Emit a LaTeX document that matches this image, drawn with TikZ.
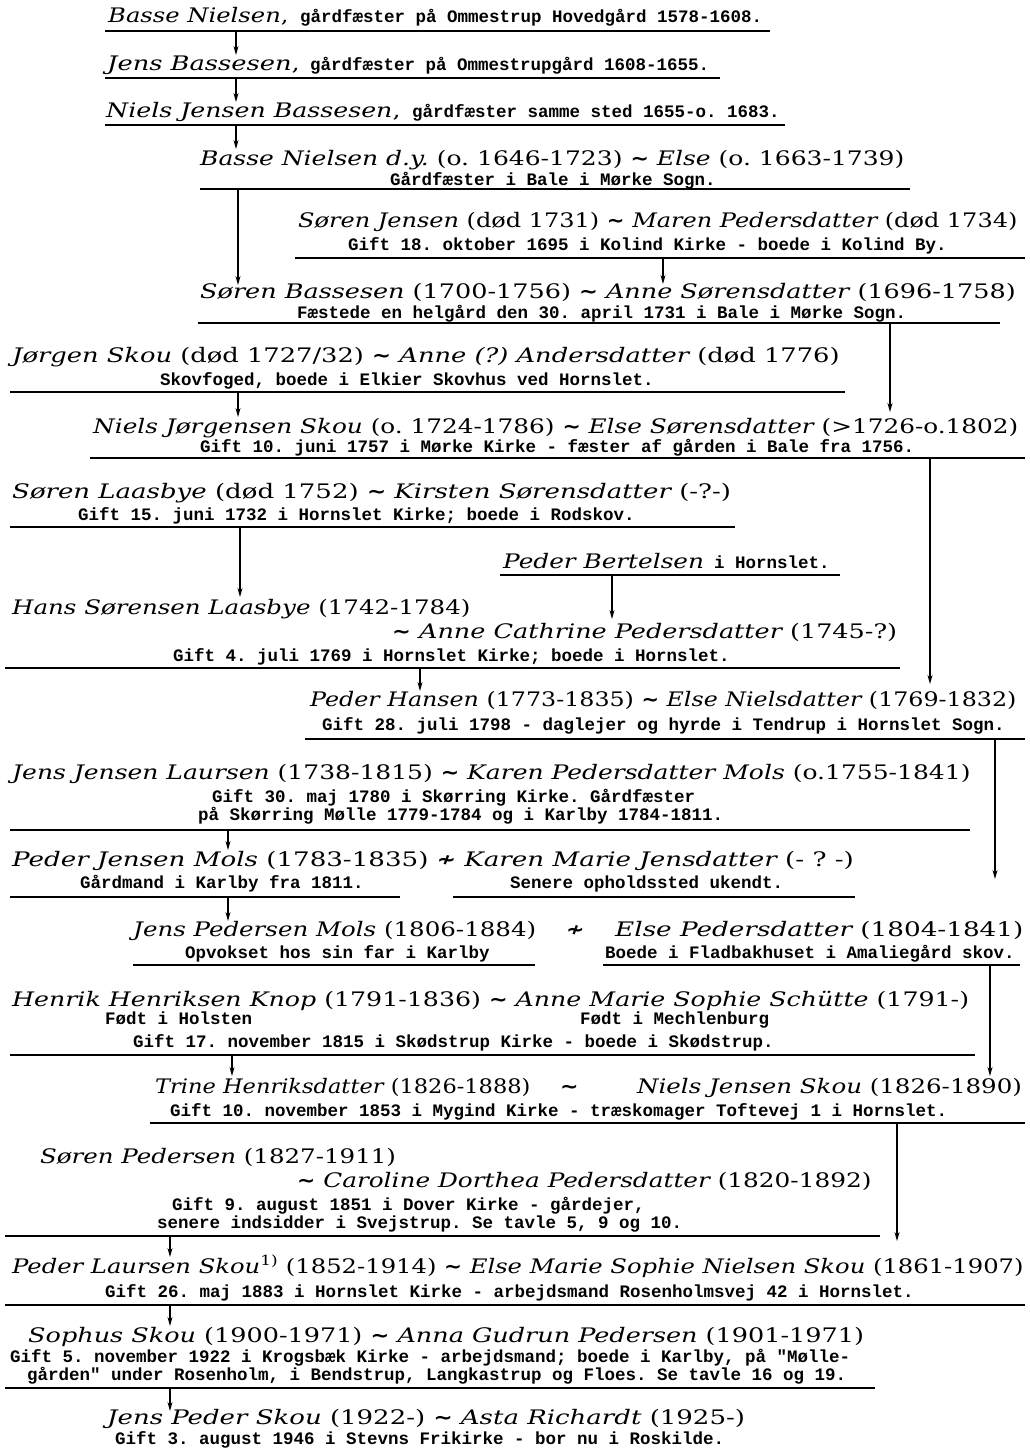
\documentclass[tikz,border=0pt]{standalone}
\usepackage{fontspec}
\usepackage{graphicx}
\usetikzlibrary{arrows.meta}
\newfontfamily\nmfont{DejaVu Serif}[FakeStretch=1.25]
\newfontfamily\mnfont{Liberation Mono}
\newfontfamily\symfont{DejaVu Sans}[FakeStretch=1.1]
\frenchspacing
\newcommand{\nm}[1]{{\itshape #1}}
\newcommand{\mar}{{\symfont\bfseries ∼}}
\newcommand{\sepm}{{\symfont\bfseries ≁}}
\newcommand{\sx}[2]{\scalebox{#1}[1]{#2}}
\tikzset{
  namel/.style={anchor=base west, inner sep=0pt, font=\nmfont\fontsize{20}{23}\selectfont},
  smalll/.style={anchor=base west, inner sep=0pt, font=\mnfont\bfseries\fontsize{17.5}{18}\selectfont},
  uline/.style={line width=1.8pt},
  arr/.style={line width=1.1pt, -{Stealth[length=9pt,width=5pt]}},
}
\begin{document}
\begin{tikzpicture}[x=1pt,y=-1pt]
\useasboundingbox[fill=white] (0,0) rectangle (1029,1449);
% row 1
\node[namel] (r1) at (108,22) {\sx{0.97}{\nm{Basse Nielsen},}};
\node[smalll] (m1) at (300,22) {gårdfæster på Ommestrup Hovedgård 1578-1608.};
\coordinate (u1a) at (105,31); \coordinate (u1b) at (770,31);
\draw[uline] (u1a) -- (u1b);
% row 2
\node[namel] (r2) at (107,70) {\sx{1.03}{\nm{Jens Bassesen},}};
\node[smalll] (m2) at (310,70) {gårdfæster på Ommestrupgård 1608-1655.};
\coordinate (u2a) at (105,78); \coordinate (u2b) at (720,78);
\draw[uline] (u2a) -- (u2b);
% row 3
\node[namel] (r3) at (106,117) {\sx{1.01}{\nm{Niels Jensen Bassesen},}};
\node[smalll] (m3) at (412,117) {gårdfæster samme sted 1655-o. 1683.};
\coordinate (u3a) at (105,125); \coordinate (u3b) at (785,125);
\draw[uline] (u3a) -- (u3b);
% row 4
\node[namel] (r4) at (200,165) {\sx{1.0}{\nm{Basse Nielsen d.y.} (o. 1646-1723) \mar{} \nm{Else} (o. 1663-1739)}};
\node[smalll] (s4) at (390,185) {Gårdfæster i Bale i Mørke Sogn.};
\coordinate (u4a) at (200,189); \coordinate (u4b) at (910,189);
\draw[uline] (u4a) -- (u4b);
% row 5
\node[namel] (r5) at (298,227) {\sx{0.96}{\nm{Søren Jensen} (død 1731) \mar{} \nm{Maren Pedersdatter} (død 1734)}};
\node[smalll] (s5) at (348,250) {Gift 18. oktober 1695 i Kolind Kirke - boede i Kolind By.};
\coordinate (u5a) at (295,258); \coordinate (u5b) at (1025,258);
\draw[uline] (u5a) -- (u5b);
% row 6
\node[namel] (r6) at (200,298) {\sx{1.02}{\nm{Søren Bassesen} (1700-1756) \mar{} \nm{Anne Sørensdatter} (1696-1758)}};
\node[smalll] (s6) at (297,318) {Fæstede en helgård den 30. april 1731 i Bale i Mørke Sogn.};
\coordinate (u6a) at (198,323); \coordinate (u6b) at (1000,323);
\draw[uline] (u6a) -- (u6b);
% row 7
\node[namel] (r7) at (12,362) {\sx{1.03}{\nm{Jørgen Skou} (død 1727/32) \mar{} \nm{Anne (?) Andersdatter} (død 1776)}};
\node[smalll] (s7) at (160,385) {Skovfoged, boede i Elkier Skovhus ved Hornslet.};
\coordinate (u7a) at (10,392); \coordinate (u7b) at (845,392);
\draw[uline] (u7a) -- (u7b);
% row 8
\node[namel] (r8) at (93,433) {\sx{0.99}{\nm{Niels Jørgensen Skou} (o. 1724-1786) \mar{} \nm{Else Sørensdatter} (>1726-o.1802)}};
\node[smalll] (s8) at (200,452) {Gift 10. juni 1757 i Mørke Kirke - fæster af gården i Bale fra 1756.};
\coordinate (u8a) at (90,458); \coordinate (u8b) at (1025,458);
\draw[uline] (u8a) -- (u8b);
% row 9
\node[namel] (r9) at (12,498) {\sx{1.04}{\nm{Søren Laasbye} (død 1752) \mar{} \nm{Kirsten Sørensdatter} (-?-)}};
\node[smalll] (s9) at (78,520) {Gift 15. juni 1732 i Hornslet Kirke; boede i Rodskov.};
\coordinate (u9a) at (10,527); \coordinate (u9b) at (735,527);
\draw[uline] (u9a) -- (u9b);
% row 10
\node[namel] (r10) at (503,568) {\sx{0.99}{\nm{Peder Bertelsen}}};
\node[smalll] (m10) at (714,568) {i Hornslet.};
\coordinate (u10a) at (500,575); \coordinate (u10b) at (840,575);
\draw[uline] (u10a) -- (u10b);
% row 11
\node[namel] (r11a) at (12,614) {\sx{0.98}{\nm{Hans Sørensen Laasbye} (1742-1784)}};
\node[namel] (r11b) at (392,638) {\sx{1.02}{\mar{} \nm{Anne Cathrine Pedersdatter} (1745-?)}};
\node[smalll] (s11) at (173,661) {Gift 4. juli 1769 i Hornslet Kirke; boede i Hornslet.};
\coordinate (u11a) at (5,668); \coordinate (u11b) at (900,668);
\draw[uline] (u11a) -- (u11b);
% row 12
\node[namel] (r12) at (310,706) {\sx{0.95}{\nm{Peder Hansen} (1773-1835) \mar{} \nm{Else Nielsdatter} (1769-1832)}};
\node[smalll] (s12) at (322,730) {Gift 28. juli 1798 - daglejer og hyrde i Tendrup i Hornslet Sogn.};
\coordinate (u12a) at (305,739); \coordinate (u12b) at (1025,739);
\draw[uline] (u12a) -- (u12b);
% row 13
\node[namel] (r13) at (12,779) {\sx{1.0}{\nm{Jens Jensen Laursen} (1738-1815) \mar{} \nm{Karen Pedersdatter Mols} (o.1755-1841)}};
\node[smalll] (s13a) at (212,802) {Gift 30. maj 1780 i Skørring Kirke. Gårdfæster};
\node[smalll] (s13b) at (198,820) {på Skørring Mølle 1779-1784 og i Karlby 1784-1811.};
\coordinate (u13a) at (10,830); \coordinate (u13b) at (970,830);
\draw[uline] (u13a) -- (u13b);
% row 14
\node[namel] (r14) at (12,866) {\sx{1.045}{\nm{Peder Jensen Mols} (1783-1835) \sepm{} \nm{Karen Marie Jensdatter} (- ? -)}};
\node[smalll] (s14a) at (80,888) {Gårdmand i Karlby fra 1811.};
\node[smalll] (s14b) at (510,888) {Senere opholdssted ukendt.};
\coordinate (u14a) at (10,897); \coordinate (u14b) at (400,897);
\coordinate (u14c) at (453,897); \coordinate (u14d) at (855,897);
\draw[uline] (u14a) -- (u14b);
\draw[uline] (u14c) -- (u14d);
% row 15
\node[namel] (r15a) at (133,936) {\sx{0.98}{\nm{Jens Pedersen Mols} (1806-1884)}};
\node[namel] (r15s) at (566,936) {\sepm};
\node[namel] (r15b) at (615,936) {\sx{1.05}{\nm{Else Pedersdatter} (1804-1841)}};
\node[smalll] (s15a) at (185,958) {Opvokset hos sin far i Karlby};
\node[smalll] (s15b) at (605,958) {Boede i Fladbakhuset i Amaliegård skov.};
\coordinate (u15a) at (133,965); \coordinate (u15b) at (535,965);
\coordinate (u15c) at (603,965); \coordinate (u15d) at (1020,965);
\draw[uline] (u15a) -- (u15b);
\draw[uline] (u15c) -- (u15d);
% row 16
\node[namel] (r16) at (12,1006) {\sx{1.01}{\nm{Henrik Henriksen Knop} (1791-1836) \mar{} \nm{Anne Marie Sophie Schütte} (1791-)}};
\node[smalll] (s16a) at (105,1024) {Født i Holsten};
\node[smalll] (s16b) at (580,1024) {Født i Mechlenburg};
\node[smalll] (s16c) at (133,1047) {Gift 17. november 1815 i Skødstrup Kirke - boede i Skødstrup.};
\coordinate (u16a) at (10,1055); \coordinate (u16b) at (975,1055);
\draw[uline] (u16a) -- (u16b);
% row 17
\node[namel] (r17a) at (155,1093) {\sx{0.9}{\nm{Trine Henriksdatter} (1826-1888)}};
\node[namel] (r17s) at (560,1093) {\mar};
\node[namel] (r17b) at (637,1093) {\sx{0.98}{\nm{Niels Jensen Skou} (1826-1890)}};
\node[smalll] (s17) at (170,1116) {Gift 10. november 1853 i Mygind Kirke - træskomager Toftevej 1 i Hornslet.};
\coordinate (u17a) at (150,1123); \coordinate (u17b) at (1025,1123);
\draw[uline] (u17a) -- (u17b);
% row 18
\node[namel] (r18a) at (40,1163) {\sx{0.98}{\nm{Søren Pedersen} (1827-1911)}};
\node[namel] (r18b) at (297,1187) {\sx{0.99}{\mar{} \nm{Caroline Dorthea Pedersdatter} (1820-1892)}};
\node[smalll] (s18a) at (172,1210) {Gift 9. august 1851 i Dover Kirke - gårdejer,};
\node[smalll] (s18b) at (157,1228) {senere indsidder i Svejstrup. Se tavle 5, 9 og 10.};
\coordinate (u18a) at (5,1236); \coordinate (u18b) at (880,1236);
\draw[uline] (u18a) -- (u18b);
% row 19
\node[namel] (r19) at (12,1273) {\sx{0.97}{\nm{Peder Laursen Skou}\textsuperscript{1)} (1852-1914) \mar{} \nm{Else Marie Sophie Nielsen Skou} (1861-1907)}};
\node[smalll] (s19) at (105,1297) {Gift 26. maj 1883 i Hornslet Kirke - arbejdsmand Rosenholmsvej 42 i Hornslet.};
\coordinate (u19a) at (5,1305); \coordinate (u19b) at (1025,1305);
\draw[uline] (u19a) -- (u19b);
% row 20
\node[namel] (r20) at (28,1342) {\sx{1.02}{\nm{Sophus Skou} (1900-1971) \mar{} \nm{Anna Gudrun Pedersen} (1901-1971)}};
\node[smalll] (s20a) at (10,1362) {Gift 5. november 1922 i Krogsbæk Kirke - arbejdsmand; boede i Karlby, på "Mølle-};
\node[smalll] (s20b) at (27,1380) {gården" under Rosenholm, i Bendstrup, Langkastrup og Floes. Se tavle 16 og 19.};
\coordinate (u20a) at (5,1388); \coordinate (u20b) at (875,1388);
\draw[uline] (u20a) -- (u20b);
% row 21
\node[namel] (r21) at (107,1424) {\sx{1.04}{\nm{Jens Peder Skou} (1922-) \mar{} \nm{Asta Richardt} (1925-)}};
\node[smalll] (s21) at (115,1444) {Gift 3. august 1946 i Stevns Frikirke - bor nu i Roskilde.};
% arrows
\foreach \i/\x/\ya/\yb in {1/236/32/55, 2/236/79/102, 3/236/126/149, 4/238/190/285, 5/663/259/284, 6/890/324/412, 7/238/393/417, 8/930/459/684, 9/240/528/597, 10/612/576/619, 11/420/669/691, 12/995/740/879, 13/228/831/850, 14/228/898/921, 15/990/966/1076, 16/232/1056/1076, 17/897/1124/1241, 18/170/1237/1257, 19/170/1306/1326, 20/170/1389/1411}{
  \coordinate (a\i s) at (\x,\ya);
  \coordinate (a\i e) at (\x,\yb);
  \draw[arr] (a\i s) -- (a\i e);
}
\end{tikzpicture}
\end{document}
